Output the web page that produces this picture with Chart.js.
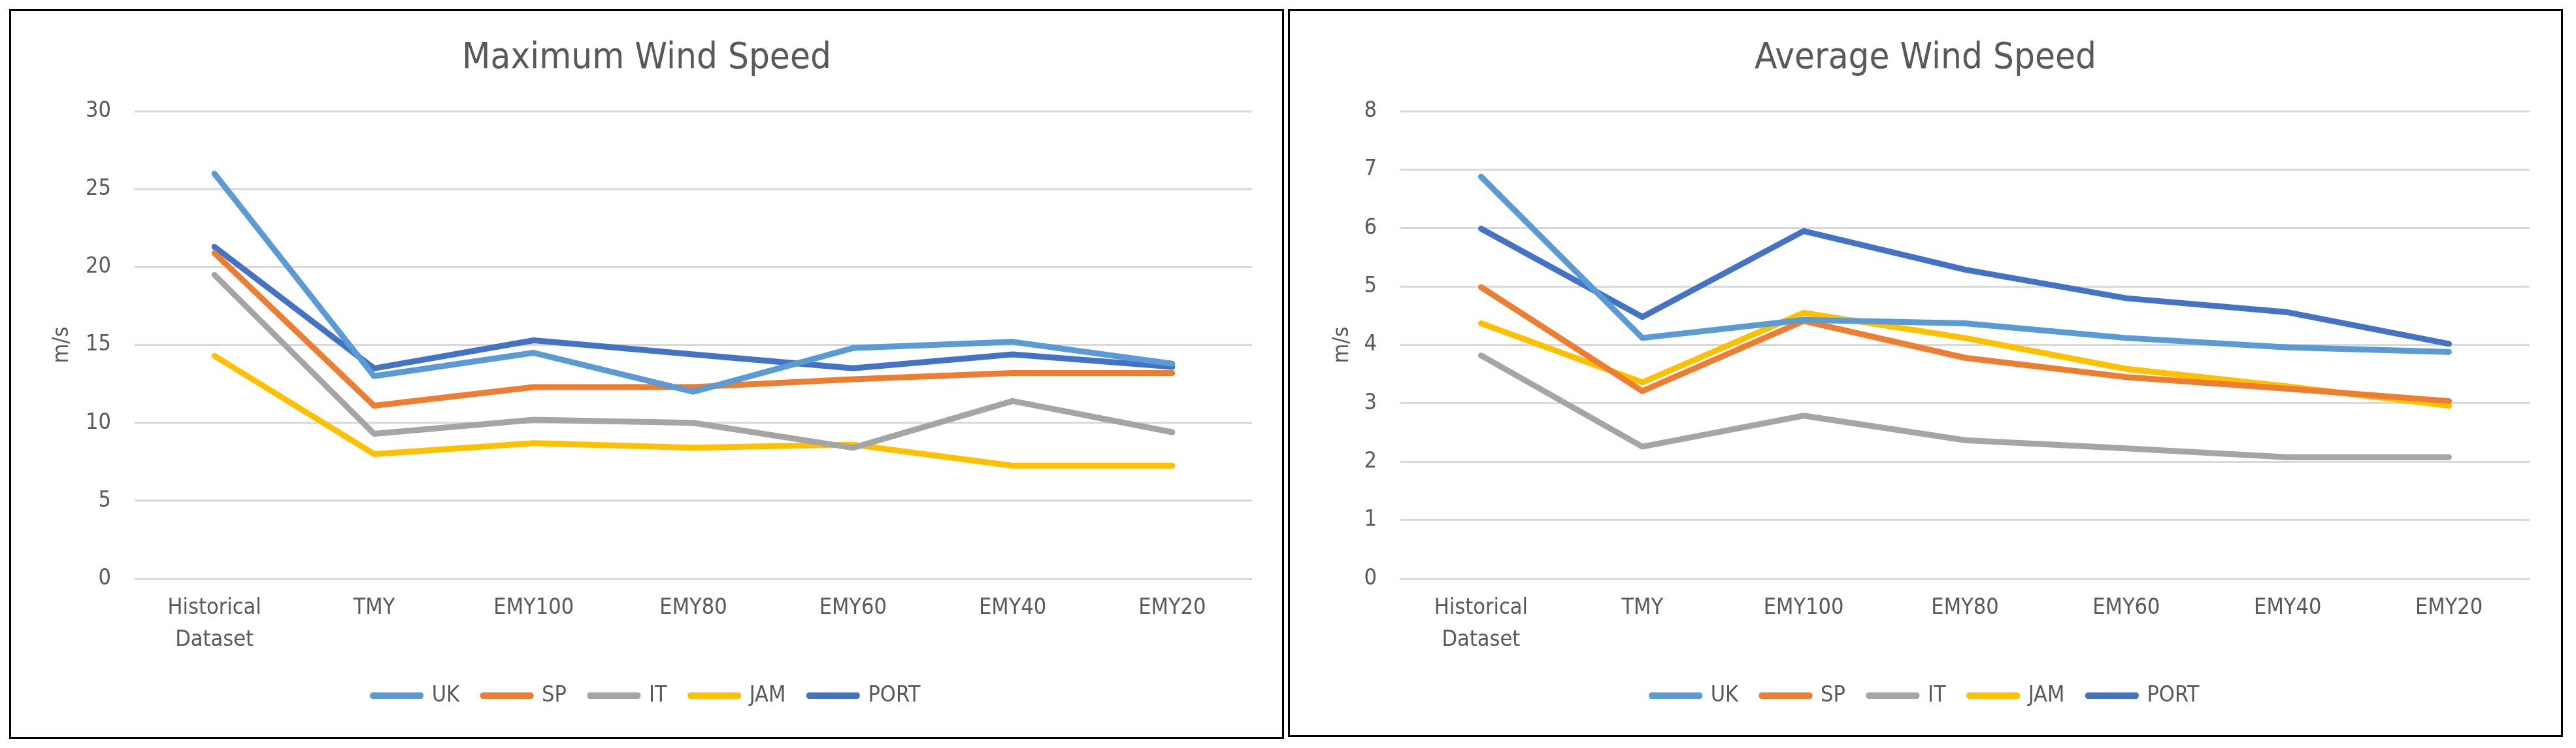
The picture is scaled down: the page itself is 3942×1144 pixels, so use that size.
<!DOCTYPE html>
<html>
<head>
<meta charset="utf-8">
<script src="https://cdn.jsdelivr.net/npm/chart.js@4.4.1/dist/chart.umd.min.js"></script>
<style>
  body { margin: 0; background: #fff; width: 3942px; height: 1144px; position: relative; overflow: hidden; }
  .box { position: absolute; top: 14px; border: 3px solid #000; background: #fff; }
  #leftBox { left: 14px; width: 1945px; height: 1110px; }
  #rightBox { left: 1971px; width: 1945px; height: 1107px; }
  canvas { display: block; }
</style>
</head>
<body>
<div class="box" id="leftBox"><canvas id="maxChart" width="1945" height="1110"></canvas></div>
<div class="box" id="rightBox"><canvas id="avgChart" width="1945" height="1107"></canvas></div>
<script>
const categories = [["Historical", "Dataset"], "TMY", "EMY100", "EMY80", "EMY60", "EMY40", "EMY20"];
const seriesNames = ["UK", "SP", "IT", "JAM", "PORT"];
const seriesColors = ["#5B9BD5", "#ED7D31", "#A5A5A5", "#FFC000", "#4472C4"];

// maximum wind speed (m/s)
const maxUK = [26.0, 13.0, 14.5, 12.0, 14.8, 15.2, 13.8];
const maxSP = [20.9, 11.1, 12.3, 12.3, 12.8, 13.2, 13.2];
const maxIT = [19.5, 9.3, 10.2, 10.0, 8.4, 11.4, 9.4];
const maxJAM = [14.3, 8.0, 8.7, 8.4, 8.6, 7.25, 7.25];
const maxPORT = [21.3, 13.5, 15.3, 14.4, 13.5, 14.4, 13.6];

// average wind speed (m/s)
const avgUK = [6.88, 4.12, 4.43, 4.37, 4.12, 3.96, 3.88];
const avgSP = [4.99, 3.21, 4.41, 3.78, 3.45, 3.25, 3.04];
const avgIT = [3.82, 2.26, 2.79, 2.37, 2.23, 2.08, 2.08];
const avgJAM = [4.37, 3.36, 4.55, 4.12, 3.59, 3.29, 2.96];
const avgPORT = [5.99, 4.48, 5.95, 5.29, 4.80, 4.56, 4.02];

const maxTicks = { min: 0, max: 30, step: 5 };
const avgTicks = { min: 0, max: 8, step: 1 };

const FONT = '"Liberation Sans Narrow", "Arial Narrow", "DejaVu Sans Condensed", sans-serif';
const TEXT = "#595959";
const GRID = "#D9D9D9";

Chart.defaults.font.family = FONT;
Chart.defaults.color = TEXT;

// side = equal left/right padding so the title and legend stay centred on the box
function makeChart(canvasId, title, seriesData, ticks, side, yWidth, padBottom) {
  const ctx = document.getElementById(canvasId).getContext("2d");
  const datasets = seriesNames.map((name, i) => ({
    label: name,
    data: seriesData[i],
    borderColor: seriesColors[i],
    backgroundColor: seriesColors[i],
    borderWidth: 9,
    borderCapStyle: "round",
    borderJoinStyle: "round",
    pointRadius: 0,
    tension: 0,
  }));

  return new Chart(ctx, {
    type: "line",
    data: { labels: categories, datasets: datasets },
    options: {
      responsive: false,
      animation: false,
      devicePixelRatio: 1,
      layout: { padding: { left: side, right: side, top: 0, bottom: padBottom } },
      plugins: {
        title: {
          display: true,
          text: title,
          color: TEXT,
          font: { size: 56, weight: "normal", lineHeight: 1.2 },
          padding: { top: 39, bottom: 47 },
        },
        legend: {
          position: "bottom",
          labels: {
            boxWidth: 73,
            boxHeight: 1,
            padding: 36,
            color: TEXT,
            font: { size: 34 },
          },
        },
        tooltip: { enabled: false },
      },
      scales: {
        x: {
          offset: true,
          grid: { display: false, drawTicks: false },
          border: { display: false },
          ticks: { padding: 21, font: { size: 34, lineHeight: 1.43 }, color: TEXT, maxRotation: 0 },
          afterFit: (scale) => { scale.height = 126; },
        },
        y: {
          min: ticks.min,
          max: ticks.max,
          grid: { color: GRID, lineWidth: 3, drawTicks: false },
          border: { display: false },
          ticks: { stepSize: ticks.step, padding: 36, font: { size: 34 }, color: TEXT },
          title: {
            display: true,
            text: "m/s",
            color: TEXT,
            font: { size: 34, lineHeight: 1.2 },
            padding: { top: 12, bottom: 0 },
          },
          afterFit: (scale) => { scale.width = yWidth; },
        },
      },
    },
  });
}

makeChart("maxChart", "Maximum Wind Speed",
  [maxUK, maxSP, maxIT, maxJAM, maxPORT], maxTicks, 46, 143, 36);
makeChart("avgChart", "Average Wind Speed",
  [avgUK, avgSP, avgIT, avgJAM, avgPORT], avgTicks, 48, 121, 33);
</script>
</body>
</html>
